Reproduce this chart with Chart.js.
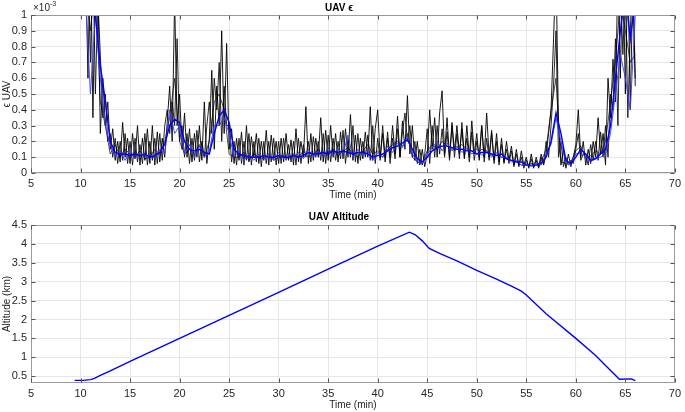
<!DOCTYPE html>
<html>
<head>
<meta charset="utf-8">
<script src="https://cdn.jsdelivr.net/npm/chart.js@4.4.1/dist/chart.umd.min.js"></script>
<style>
  html, body { margin: 0; padding: 0; background: #fff; }
  #wrap { position: relative; width: 685px; height: 412px; }
  canvas { position: absolute; left: 0; }
</style>
</head>
<body>
<div id="wrap">
  <canvas id="epsChart" width="685" height="206" style="top:0"></canvas>
  <canvas id="altChart" width="685" height="206" style="top:206px"></canvas>
</div>
<script>
// epsilon values are in units of 1e-3 (axis carries the x10^-3 multiplier)
// sampled every 0.25 min from 10.5 to 66.0
const blackA = [
  1.4, 0.6,                 // 10.5
  1.5, 0.35, 1.3, 1.2,      // 11
  0.25, 0.6, 0.3, 0.45,     // 12
  0.15, 0.28, 0.08, 0.2,    // 13
  0.07, 0.32, 0.1, 0.22,    // 14
  0.06, 0.25, 0.09, 0.3,    // 15
  0.05, 0.22, 0.08, 0.28,   // 16
  0.06, 0.3, 0.05, 0.26,    // 17
  0.07, 0.22, 0.1, 0.32,    // 18
  0.55, 0.2, 1.1, 0.3,      // 19
  0.5, 0.15, 0.38, 0.1,     // 20
  0.28, 0.07, 0.25, 0.1,    // 21
  0.3, 0.08, 0.45, 0.06,    // 22
  0.22, 0.65, 0.15, 0.55,   // 23
  0.3, 0.9, 0.25, 0.82,     // 24
  0.15, 0.28, 0.06, 0.22,   // 25
  0.08, 0.26, 0.05, 0.3,    // 26
  0.07, 0.23, 0.1, 0.25,    // 27
  0.06, 0.2, 0.08, 0.27,    // 28
  0.05, 0.24, 0.09, 0.2,    // 29
  0.06, 0.22, 0.07, 0.25,   // 30
  0.08, 0.21, 0.05, 0.28,   // 31
  0.07, 0.2, 0.1, 0.42,     // 32
  0.06, 0.25, 0.08, 0.22,   // 33
  0.1, 0.35, 0.07, 0.27,    // 34
  0.08, 0.3, 0.1, 0.25,     // 35
  0.07, 0.26, 0.09, 0.28,   // 36
  0.1, 0.37, 0.08, 0.24,    // 37
  0.06, 0.22, 0.09, 0.26,   // 38
  0.1, 0.42, 0.08, 0.28,    // 39
  0.4, 0.1, 0.25, 0.07,     // 40
  0.22, 0.1, 0.3, 0.12,     // 41
  0.36, 0.1, 0.33, 0.15,    // 42
  0.49, 0.12, 0.3, 0.08,    // 43
  0.2, 0.05, 0.15, 0.04,    // 44
  0.12, 0.4, 0.15, 0.35,    // 45
  0.1, 0.38, 0.52, 0.12,    // 46
  0.35, 0.1, 0.32, 0.14,    // 47
  0.3, 0.12, 0.28, 0.09,    // 48
  0.3, 0.1, 0.33, 0.12,     // 49
  0.25, 0.08, 0.3, 0.1,     // 50
  0.38, 0.1, 0.27, 0.08,    // 51
  0.25, 0.07, 0.22, 0.06,   // 52
  0.2, 0.08, 0.17, 0.05,    // 53
  0.15, 0.04, 0.14, 0.05,   // 54
  0.1, 0.03, 0.12, 0.04,    // 55
  0.08, 0.03, 0.1, 0.05,    // 56
  0.12, 0.25, 0.4, 0.85,    // 57
  1.3, 0.3, 0.05, 0.15,     // 58
  0.03, 0.12, 0.04, 0.1,    // 59
  0.18, 0.4, 0.1, 0.2,      // 60
  0.05, 0.15, 0.06, 0.2,    // 61
  0.1, 0.35, 0.12, 0.25,    // 62
  0.05, 0.6, 0.35, 0.72,    // 63
  0.45, 1.3, 0.6, 1.4,      // 64
  0.5, 1.3, 0.4, 1.2,       // 65
  0.55                      // 66
];

const blackB = [
  1.2, 1.3,                 // 10.5
  0.7, 1.4, 0.5, 1.1,       // 11
  0.75, 0.35, 0.5, 0.2,     // 12
  0.25, 0.1, 0.22, 0.06,    // 13
  0.2, 0.08, 0.25, 0.06,    // 14
  0.2, 0.05, 0.22, 0.07,    // 15
  0.18, 0.06, 0.25, 0.05,   // 16
  0.2, 0.08, 0.22, 0.06,    // 17
  0.25, 0.08, 0.3, 0.4,     // 18
  0.25, 0.45, 0.3, 0.85,    // 19
  0.2, 0.3, 0.1, 0.25,      // 20
  0.06, 0.22, 0.08, 0.27,   // 21
  0.07, 0.2, 0.1, 0.3,      // 22
  0.45, 0.25, 0.6, 0.4,     // 23
  0.7, 0.2, 0.55, 0.3,      // 24
  0.3, 0.07, 0.2, 0.05,     // 25
  0.22, 0.06, 0.2, 0.08,    // 26
  0.25, 0.05, 0.2, 0.07,    // 27
  0.22, 0.04, 0.2, 0.06,    // 28
  0.2, 0.07, 0.22, 0.05,    // 29
  0.2, 0.06, 0.22, 0.08,    // 30
  0.18, 0.07, 0.2, 0.05,    // 31
  0.22, 0.06, 0.18, 0.1,    // 32
  0.2, 0.07, 0.23, 0.1,     // 33
  0.2, 0.08, 0.25, 0.06,    // 34
  0.24, 0.07, 0.22, 0.08,   // 35
  0.2, 0.09, 0.27, 0.06,    // 36
  0.22, 0.1, 0.3, 0.07,     // 37
  0.25, 0.08, 0.2, 0.1,     // 38
  0.24, 0.08, 0.3, 0.06,    // 39
  0.22, 0.08, 0.3, 0.1,     // 40
  0.26, 0.06, 0.22, 0.09,   // 41
  0.28, 0.1, 0.26, 0.38,    // 42
  0.2, 0.3, 0.1, 0.2,       // 43
  0.06, 0.15, 0.05, 0.12,   // 44
  0.28, 0.06, 0.3, 0.1,     // 45
  0.3, 0.12, 0.28, 0.1,     // 46
  0.26, 0.08, 0.3, 0.1,     // 47
  0.25, 0.09, 0.32, 0.1,    // 48
  0.22, 0.07, 0.26, 0.08,   // 49
  0.2, 0.1, 0.3, 0.07,      // 50
  0.22, 0.08, 0.25, 0.06,   // 51
  0.2, 0.05, 0.18, 0.07,    // 52
  0.15, 0.06, 0.14, 0.04,   // 53
  0.12, 0.05, 0.1, 0.03,    // 54
  0.08, 0.04, 0.09, 0.03,   // 55
  0.1, 0.04, 0.12, 0.06,    // 56
  0.2, 0.1, 0.3, 0.55,      // 57
  0.9, 0.1, 0.2, 0.04,      // 58
  0.1, 0.05, 0.08, 0.06,    // 59
  0.15, 0.25, 0.08, 0.12,   // 60
  0.12, 0.05, 0.18, 0.08,   // 61
  0.2, 0.08, 0.26, 0.1,     // 62
  0.3, 0.1, 0.5, 0.4,       // 63
  0.85, 0.3, 1.2, 0.75,     // 64
  1.2, 0.35, 0.9, 1.3,      // 65
  0.6                       // 66
];

// sampled every 0.5 min from 10.5 to 66.0
const blackC = [
  1.2,
  0.9, 1.2,   0.45, 0.3,  0.12, 0.18, 0.1, 0.15,  0.12, 0.1,   // 11-15
  0.14, 0.09, 0.1, 0.15,  0.12, 0.2,  0.35, 0.6,  0.2, 0.12,   // 16-20
  0.15, 0.12, 0.18, 0.1,  0.2, 0.45,  0.5, 0.4,   0.12, 0.1,   // 21-25
  0.1, 0.13,  0.08, 0.12, 0.1, 0.09,  0.12, 0.08, 0.1, 0.11,   // 26-30
  0.09, 0.12, 0.1, 0.14,  0.1, 0.12,  0.15, 0.1,  0.13, 0.15,  // 31-35
  0.11, 0.14, 0.16, 0.12, 0.1, 0.14,  0.18, 0.12, 0.14, 0.1,   // 36-40
  0.15, 0.18, 0.2, 0.17,  0.25, 0.1,  0.07, 0.06, 0.14, 0.18,  // 41-45
  0.15, 0.2,  0.17, 0.15, 0.16, 0.18, 0.15, 0.14, 0.12, 0.15,  // 46-50
  0.14, 0.11, 0.12, 0.1,  0.09, 0.08, 0.07, 0.05, 0.05, 0.06,  // 51-55
  0.05, 0.07, 0.15, 0.4,  0.6, 0.07,  0.06, 0.07, 0.14, 0.17,  // 56-60
  0.09, 0.11, 0.14, 0.12, 0.2, 0.45,  0.7, 1.1,   0.9, 0.7,    // 61-65
  0.75
];

const blueMean = [
  1.3,
  1.2, 1.0,   0.68, 0.46, 0.2, 0.13,  0.12, 0.12, 0.11, 0.12,  // 11-15
  0.11, 0.12, 0.1, 0.11,  0.13, 0.18, 0.3, 0.34,  0.32, 0.2,   // 16-20
  0.15, 0.14, 0.15, 0.13, 0.12, 0.25, 0.36, 0.4,  0.32, 0.15,  // 21-25
  0.12, 0.11, 0.1, 0.1,   0.1, 0.11,  0.1, 0.1,   0.11, 0.1,   // 26-30
  0.1, 0.11,  0.1, 0.11,  0.13, 0.12, 0.12, 0.13, 0.12, 0.14,  // 31-35
  0.13, 0.14, 0.13, 0.12, 0.13, 0.13, 0.12, 0.1,  0.11, 0.12,  // 36-40
  0.14, 0.16, 0.17, 0.19, 0.21, 0.15, 0.09, 0.07, 0.1, 0.14,   // 41-45
  0.16, 0.17, 0.17, 0.16, 0.15, 0.15, 0.14, 0.14, 0.12, 0.13,  // 46-50
  0.13, 0.12, 0.11, 0.12, 0.09, 0.08, 0.07, 0.07, 0.05, 0.05,  // 51-55
  0.05, 0.06, 0.1, 0.2,   0.38, 0.25, 0.08, 0.06, 0.1, 0.15,   // 56-60
  0.12, 0.08, 0.09, 0.12, 0.15, 0.3,  0.6, 0.9,   1.15, 0.85,  // 61-65
  1.1
];

const blueLight = [
  1.1,
  0.5, 1.0,   0.6, 0.3,   0.18, 0.1,  0.14, 0.08, 0.15, 0.09,  // 11-15
  0.13, 0.1,  0.12, 0.09, 0.15, 0.12, 0.4, 0.25,  0.3, 0.12,   // 16-20
  0.18, 0.1,  0.17, 0.1,  0.14, 0.3,  0.3, 0.35,  0.25, 0.1,   // 21-25
  0.14, 0.08, 0.12, 0.08, 0.12, 0.09, 0.12, 0.08, 0.13, 0.09,  // 26-30
  0.12, 0.1,  0.13, 0.09, 0.15, 0.1,  0.14, 0.1,  0.16, 0.11,  // 31-35
  0.15, 0.12, 0.24, 0.1,  0.15, 0.11, 0.14, 0.08, 0.13, 0.1,   // 36-40
  0.17, 0.13, 0.19, 0.16, 0.23, 0.12, 0.07, 0.06, 0.12, 0.16,  // 41-45
  0.2, 0.14,  0.19, 0.14, 0.17, 0.13, 0.16, 0.12, 0.15, 0.11,  // 46-50
  0.14, 0.1,  0.13, 0.1,  0.1, 0.07,  0.08, 0.05, 0.06, 0.04,  // 51-55
  0.06, 0.05, 0.12, 0.18, 0.35, 0.2,  0.06, 0.05, 0.12, 0.13,  // 56-60
  0.1, 0.07,  0.1, 0.1,   0.12, 0.25, 0.5, 0.75,  0.6, 0.4,    // 61-65
  1.0
];

// altitude (km) against time (min)
const altTime = [9.4, 10.3, 11.0, 11.4, 12, 13, 15, 20, 25, 30, 35, 40, 43.2, 43.8, 44.5,
  45.2, 46.3, 48, 50, 52, 53.5, 54.5, 55, 57, 60, 62, 63, 64.4, 65.6, 66.0];
const altKm = [0.39, 0.39, 0.41, 0.44, 0.52, 0.64, 0.89, 1.5, 2.11, 2.72, 3.33, 3.94, 4.31, 4.24, 4.08,
  3.88, 3.74, 3.55, 3.3, 3.07, 2.88, 2.75, 2.65, 2.15, 1.5, 1.05, 0.78, 0.42, 0.43, 0.38];

const timeTicks = [5, 10, 15, 20, 25, 30, 35, 40, 45, 50, 55, 60, 65, 70];

function sampleTimes(start, step, n) {
  return Array.from({ length: n }, (_, i) => +(start + i * step).toFixed(2));
}
function toPoints(xs, ys) {
  return ys.map((y, i) => ({ x: xs[i], y }));
}

const tQuarter = sampleTimes(10.5, 0.25, blackA.length);
const tHalf = sampleTimes(10.5, 0.5, blueMean.length);

Chart.defaults.font.family = '"Liberation Sans", Arial, Helvetica, sans-serif';
Chart.defaults.font.size = 11;
Chart.defaults.color = "#262626";

const GRID = "#e6e6e6";

// MATLAB style box with inward ticks on all four sides
const boxPlugin = {
  id: "matlabBox",
  afterDatasetsDraw(chart) {
    const { ctx, chartArea: a, scales } = chart;
    const l = Math.round(a.left) + 0.5, r = Math.round(a.right) - 0.5;
    const t = Math.round(a.top) + 0.5, b = Math.round(a.bottom) - 0.5;
    ctx.save();
    ctx.lineWidth = 1;
    ctx.strokeStyle = "#9a9a9a";
    ctx.strokeRect(l, t, r - l, b - t);
    ctx.strokeStyle = "#555";
    ctx.beginPath();
    scales.x.ticks.forEach((tk) => {
      const px = Math.round(scales.x.getPixelForValue(tk.value)) + 0.5;
      ctx.moveTo(px, b); ctx.lineTo(px, b - 4);
      ctx.moveTo(px, t); ctx.lineTo(px, t + 4);
    });
    scales.y.ticks.forEach((tk) => {
      const py = Math.round(scales.y.getPixelForValue(tk.value)) + 0.5;
      ctx.moveTo(l, py); ctx.lineTo(l + 4, py);
      ctx.moveTo(r, py); ctx.lineTo(r - 4, py);
    });
    ctx.stroke();
    ctx.restore();
  },
};

// x10^-3 multiplier above the y axis
const exponentPlugin = {
  id: "exponent",
  afterDraw(chart) {
    const { ctx, chartArea: a } = chart;
    ctx.save();
    ctx.fillStyle = "#262626";
    ctx.textBaseline = "alphabetic";
    ctx.font = '10px "Liberation Sans", Arial, sans-serif';
    ctx.fillText("\u00d710", a.left + 2, a.top - 4);
    const w = ctx.measureText("\u00d710").width;
    ctx.font = '7px "Liberation Sans", Arial, sans-serif';
    ctx.fillText("-3", a.left + 2 + w, a.top - 9);
    ctx.restore();
  },
};

function xScale(height, titlePadBottom) {
  return {
    type: "linear",
    min: 5,
    max: 70,
    afterBuildTicks: (s) => { s.ticks = timeTicks.map((v) => ({ value: v })); },
    ticks: { padding: 4, maxRotation: 0, autoSkip: false },
    grid: { color: GRID, drawTicks: false },
    border: { display: false },
    title: { display: true, text: "Time (min)", font: { size: 10 }, padding: { top: 0, bottom: titlePadBottom } },
    afterFit: (s) => { s.height = height; },
  };
}

new Chart(document.getElementById("epsChart"), {
  type: "line",
  data: {
    datasets: [
      { data: toPoints(tHalf, blueMean), borderColor: "#0000ff", borderWidth: 1.4 },
      { data: toPoints(tHalf, blueLight), borderColor: "#3b3bff", borderWidth: 0.9 },
      { data: toPoints(tQuarter, blackA), borderColor: "#000000", borderWidth: 0.9 },
      { data: toPoints(tQuarter, blackB), borderColor: "#111111", borderWidth: 0.9 },
      { data: toPoints(tHalf, blackC), borderColor: "#222222", borderWidth: 0.8 },
    ],
  },
  options: {
    responsive: false,
    animation: false,
    devicePixelRatio: 1,
    elements: { point: { radius: 0 }, line: { tension: 0 } },
    layout: { padding: { left: 0, right: 7, top: 0, bottom: 0 } },
    plugins: {
      legend: { display: false },
      tooltip: { enabled: false },
      title: {
        display: true,
        text: "UAV \u03f5",
        color: "#000",
        font: { size: 10, weight: "bold" },
        padding: { top: 2, bottom: 1 },
      },
    },
    scales: {
      x: xScale(33, 5),
      y: {
        min: 0,
        max: 1,
        ticks: { stepSize: 0.1, autoSkip: false, padding: 4, callback: (v) => +v.toFixed(1) },
        grid: { color: GRID, drawTicks: false },
        border: { display: false },
        title: { display: true, text: "\u03f5 UAV", font: { size: 10 }, padding: { top: 1, bottom: 0 } },
        afterFit: (s) => { s.width = 31; },
      },
    },
  },
  plugins: [boxPlugin, exponentPlugin],
});

new Chart(document.getElementById("altChart"), {
  type: "line",
  data: {
    datasets: [
      { data: toPoints(altTime, altKm), borderColor: "#0000ff", borderWidth: 1.4 },
    ],
  },
  options: {
    responsive: false,
    animation: false,
    devicePixelRatio: 1,
    elements: { point: { radius: 0 }, line: { tension: 0 } },
    layout: { padding: { left: 0, right: 7, top: 0, bottom: 0 } },
    plugins: {
      legend: { display: false },
      tooltip: { enabled: false },
      title: {
        display: true,
        text: "UAV Altitude",
        color: "#000",
        font: { size: 10, weight: "bold" },
        padding: { top: 5, bottom: 2 },
      },
    },
    scales: {
      x: xScale(29, 1),
      y: {
        min: 0.32,
        max: 4.5,
        ticks: { stepSize: 0.5, autoSkip: false, includeBounds: false, padding: 4, callback: (v) => +v.toFixed(1) },
        grid: { color: GRID, drawTicks: false },
        border: { display: false },
        title: { display: true, text: "Altitude (km)", font: { size: 10 }, padding: { top: 1, bottom: 0 } },
        afterFit: (s) => { s.width = 31; },
      },
    },
  },
  plugins: [boxPlugin],
});
</script>
</body>
</html>
